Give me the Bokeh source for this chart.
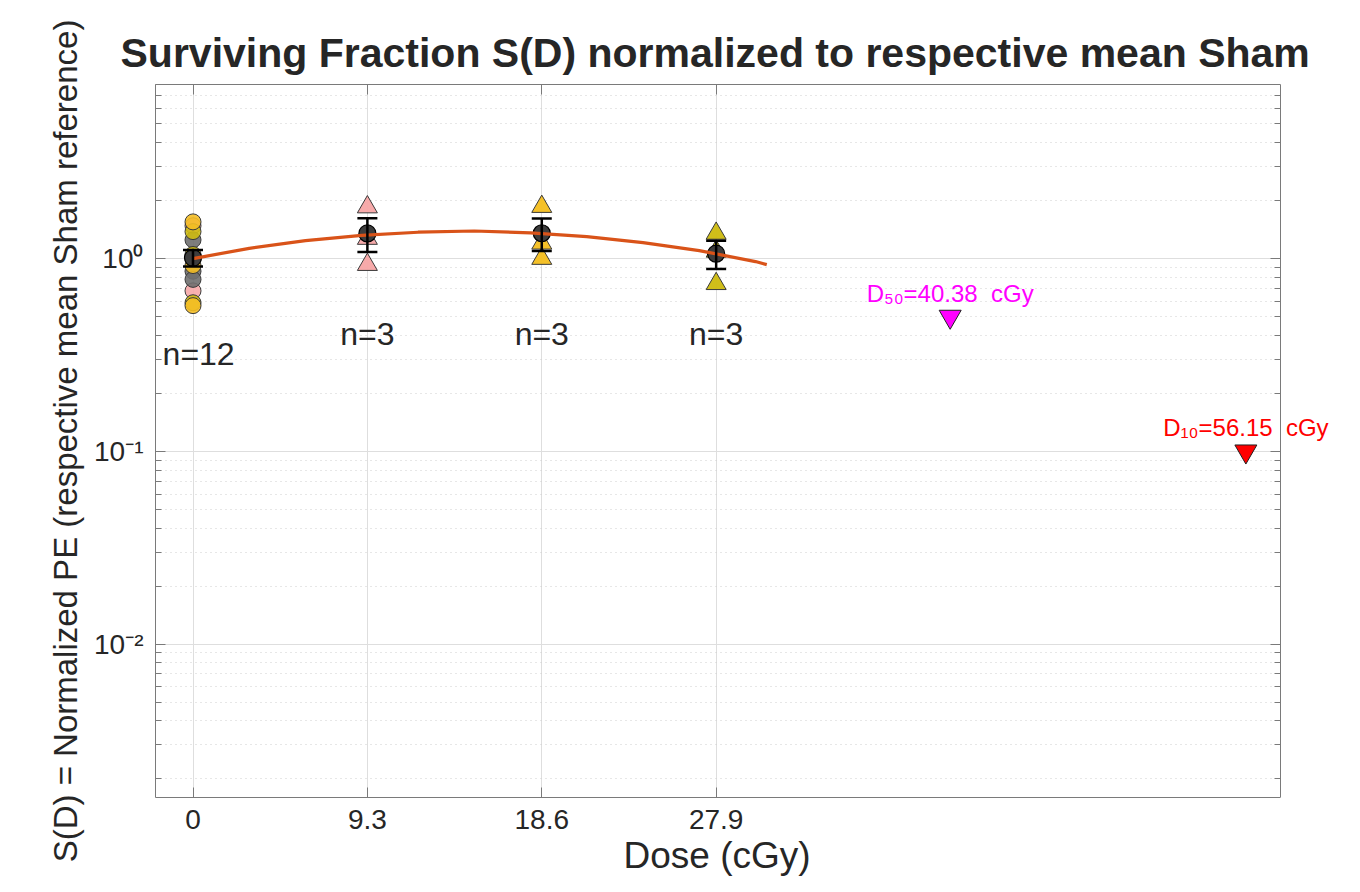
import numpy as np
from bokeh.plotting import figure
from bokeh.models import (Range1d, FixedTicker, LogTicker, LogAxis, LinearAxis, Label,
                          ColumnDataSource, Whisker, TeeHead, CustomJSTickFormatter,
                          BoxAnnotation, Title)
from bokeh.embed import file_html
from bokeh.resources import INLINE

# ---------------- data ----------------
doses = [0.0, 9.3, 18.6, 27.9]
x_tick_labels = ["0", "9.3", "18.6", "27.9"]

# Sham (dose 0), four experiment groups, normalized values
sham_orange = [1.55, 0.92, 0.57]
sham_pink = [1.48, 1.00, 0.68]
sham_olive = [1.38, 1.05, 0.59]
sham_gray = [1.25, 0.86, 0.78]

# irradiated groups (triangles)
sf_9_3 = [1.85, 0.93, 1.27]
sf_18_6 = [1.86, 1.00, 1.20]
sf_27_9 = [1.35, 1.09, 0.74]

# fitted curve
fit_dose = [0, 3, 6, 9, 12, 15, 18, 21, 24, 27, 30, 30.6]
fit_sf = [1.00, 1.13, 1.24, 1.32, 1.37, 1.39, 1.36, 1.30, 1.21, 1.10, 0.965, 0.93]

d50 = 40.38
d10 = 56.15

x_lo, x_hi = -2, 58          # visible axes box
FONT = "Liberation Sans"
TXT = "#262626"
AX = "#7a7a7a"

p = figure(width=1356, height=892, x_range=Range1d(x_lo, 62.05), y_range=Range1d(0.0016, 8),
           y_axis_type="log", output_backend="svg", toolbar_location=None,
           min_border_left=155, min_border_right=0, min_border_top=84, min_border_bottom=95)
p.background_fill_color = "white"
p.border_fill_color = "white"
p.outline_line_color = None

p.title.text = "Surviving Fraction S(D) normalized to respective mean Sham"
p.title.align = "left"
p.title.offset = -35
p.title.standoff = 17
p.title.text_font = FONT
p.title.text_font_size = "41px"
p.title.text_font_style = "bold"
p.title.text_color = TXT

# axes
xa = p.xaxis[0]
xa.ticker = FixedTicker(ticks=doses)
xa.major_label_overrides = {d: l for d, l in zip(doses, x_tick_labels)}
xa.bounds = (x_lo, x_hi)
ya = p.yaxis[0]
ya.ticker = LogTicker(num_minor_ticks=10)
ya.formatter = CustomJSTickFormatter(code="""
const e = Math.round(Math.log10(tick));
const sup = {'-':'\u207b','0':'\u2070','1':'\u00b9','2':'\u00b2','3':'\u00b3','4':'\u2074','5':'\u2075','6':'\u2076','7':'\u2077','8':'\u2078','9':'\u2079'};
return '10' + String(e).split('').map(c => sup[c]).join('');
""")
ya.axis_label = "S(D) = Normalized PE (respective mean Sham reference)"

for ax in (xa, ya):
    ax.axis_line_color = AX
    ax.major_tick_line_color = AX
    ax.minor_tick_line_color = AX
    ax.major_tick_in = 10
    ax.major_tick_out = 0
    ax.minor_tick_in = 6
    ax.minor_tick_out = 0
    ax.major_label_text_font = FONT
    ax.major_label_text_color = TXT
    ax.axis_label_text_font = FONT
    ax.axis_label_text_color = TXT
    ax.axis_label_text_font_style = "normal"
xa.major_label_text_font_size = "28px"
ya.major_label_text_font_size = "28px"
ya.axis_label_text_font_size = "33px"
xa.major_label_standoff = 12
ya.major_label_standoff = 12
ya.axis_label_standoff = 7

# x-axis title, centred under the visible box
xtitle = Title(text="Dose (cGy)", align="left", offset=468, standoff=2, text_font=FONT,
               text_font_size="37px", text_font_style="normal", text_color=TXT)
p.add_layout(xtitle, "below")

top = LinearAxis(ticker=FixedTicker(ticks=doses), major_label_text_font_size="6px",
                 major_label_text_alpha=0, major_label_standoff=0, bounds=(x_lo, x_hi),
                 major_tick_in=10, major_tick_out=0, axis_line_color=AX,
                 major_tick_line_color=AX, minor_tick_line_color=None)
p.add_layout(top, "above")
# right edge of the box, drawn at x = 58
rbox = LogAxis(ticker=LogTicker(num_minor_ticks=10), major_label_text_font_size="6px",
               major_label_text_alpha=0, major_label_standoff=0, fixed_location=x_hi,
               major_tick_in=0, major_tick_out=10, minor_tick_in=0, minor_tick_out=6,
               axis_line_color=AX, major_tick_line_color=AX, minor_tick_line_color=AX)
p.add_layout(rbox, "left")

# grids
p.xgrid.grid_line_color = "#dedede"
p.ygrid.grid_line_color = "#dedede"
p.ygrid.minor_grid_line_color = "#cfcfcf"
p.ygrid.minor_grid_line_dash = "1 4"
mask = BoxAnnotation(left=x_hi, fill_color="white", fill_alpha=1, line_color=None,
                     level="glyph")
p.add_layout(mask)

# sham circles
sham_groups = [(sham_pink, "#F7A8A8"), (sham_gray, "#6f6f6f"), (sham_olive, "#CDBA12"),
               (sham_orange, "#F4BE25")]
for vals, col in sham_groups:
    p.scatter([doses[0]] * len(vals), vals, marker="circle", size=16, fill_color=col,
              fill_alpha=0.9, line_color="#3a3a3a", line_width=1)

# triangles
tri_groups = [(doses[1], sf_9_3, "#F7A5A5"), (doses[2], sf_18_6, "#F4BE1E"),
              (doses[3], sf_27_9, "#CDBA0E")]
for d, vals, col in tri_groups:
    p.scatter([d] * len(vals), vals, marker="triangle", size=20, fill_color=col,
              fill_alpha=0.95, line_color="#3a3a3a", line_width=1)

# means and SEM
all_sets = [sham_orange + sham_pink + sham_olive + sham_gray, sf_9_3, sf_18_6, sf_27_9]
means = [float(np.mean(v)) for v in all_sets]
sems = [float(np.std(v, ddof=1) / np.sqrt(len(v))) for v in all_sets]
src = ColumnDataSource(dict(x=doses, m=means, lo=[m - s for m, s in zip(means, sems)],
                            hi=[m + s for m, s in zip(means, sems)]))
p.scatter("x", "m", source=src, marker="circle", size=17, fill_color="#3d3d3d",
          line_color="black", line_width=1.2)
wh = Whisker(source=src, base="x", upper="hi", lower="lo", dimension="height",
             line_color="black", line_width=2.5,
             upper_head=TeeHead(size=20, line_width=2.5, line_color="black"),
             lower_head=TeeHead(size=20, line_width=2.5, line_color="black"))
wh.level = "glyph"
p.add_layout(wh)

# fit curve
p.line(fit_dose, fit_sf, line_color="#D95319", line_width=3.2)

# n labels
n_y = [0.32, 0.405, 0.405, 0.405]
n_x = [0.3, doses[1], doses[2], doses[3]]
for xx, yy, vals in zip(n_x, n_y, all_sets):
    p.add_layout(Label(x=xx, y=yy, text=f"n={len(vals)}", text_align="center",
                       text_baseline="middle", text_font=FONT, text_font_size="32px",
                       text_color=TXT))

# D50 / D10 markers
p.scatter([d50], [0.5], marker="inverted_triangle", size=22, fill_color="#FF00FF",
          line_color="#202020", line_width=1)
p.scatter([d10], [0.1], marker="inverted_triangle", size=22, fill_color="#FF0000",
          line_color="#202020", line_width=1)
p.add_layout(Label(x=d50, y=0.5, y_offset=10, text=f"D\u2085\u2080={d50:.2f} \u00a0cGy",
                   text_align="center", text_baseline="bottom", text_font=FONT,
                   text_font_size="24px", text_color="#FF00FF"))
p.add_layout(Label(x=d10, y=0.1, y_offset=10, text=f"D\u2081\u2080={d10:.2f} \u00a0cGy",
                   text_align="center", text_baseline="bottom", text_font=FONT,
                   text_font_size="24px", text_color="#FF0000"))

open("out.html", "w").write(file_html(p, INLINE))
